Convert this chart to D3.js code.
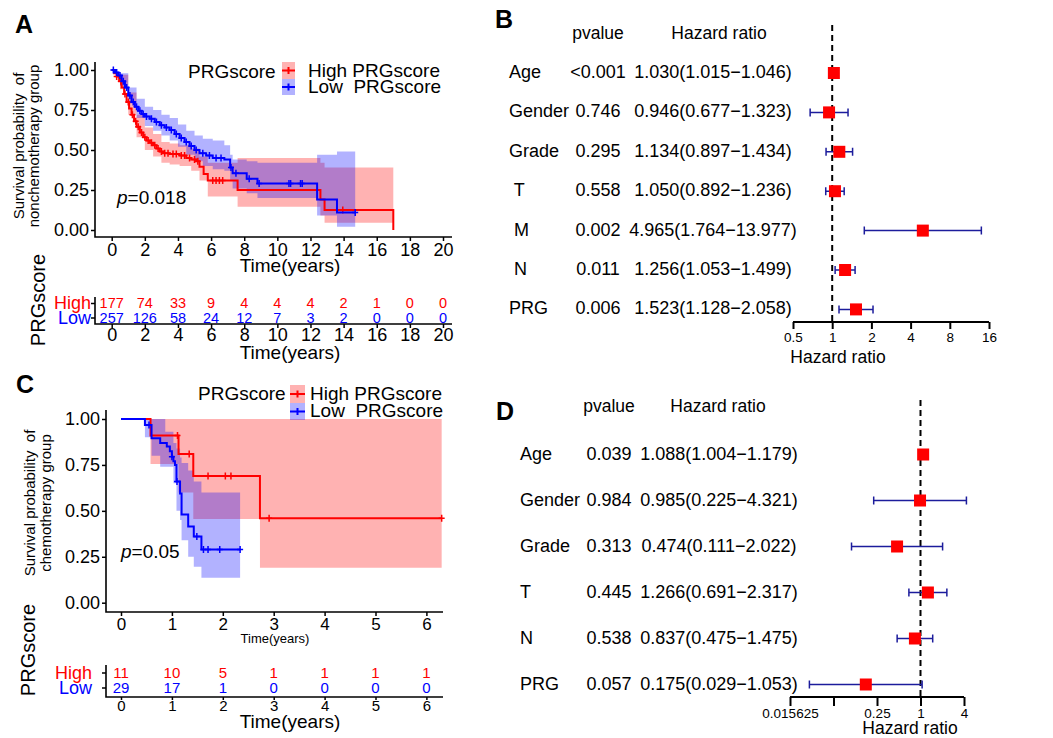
<!DOCTYPE html>
<html>
<head>
<meta charset="utf-8">
<script src="https://cdn.jsdelivr.net/npm/d3@7"></script>
<style>
  body { margin: 0; background: #fff; }
  svg { font-family: "Liberation Sans", Arial, sans-serif; }
</style>
</head>
<body>
<script>
// ---------- data ----------
// KM steps [time, survival], bands [time, lower, upper], censor times
const highA = [[0,1],[0.15,0.98],[0.3,0.96],[0.45,0.93],[0.6,0.89],[0.75,0.85],[0.9,0.8],[1.05,0.76],[1.2,0.72],[1.35,0.68],[1.5,0.645],[1.7,0.61],[1.9,0.58],[2.1,0.56],[2.3,0.545],[2.5,0.53],[2.7,0.51],[2.9,0.49],[3.1,0.48],[3.5,0.475],[4.1,0.465],[4.5,0.45],[4.8,0.44],[5.1,0.43],[5.3,0.395],[5.55,0.35],[5.8,0.31],[7.6,0.25],[12.6,0.19],[12.85,0.125],[17.0,0]];
const highA_band = [[0,1,1],[0.5,0.88,0.97],[1,0.72,0.86],[1.5,0.58,0.72],[2,0.5,0.64],[2.5,0.46,0.6],[3,0.42,0.55],[3.5,0.41,0.54],[4.1,0.4,0.53],[4.8,0.37,0.51],[5.3,0.31,0.46],[5.8,0.21,0.42],[7.6,0.145,0.45],[12.6,0.09,0.42],[12.85,0.045,0.39],[17.0,0.045,0.39]];
const highA_cens = [0.3,0.55,0.8,1.0,1.25,1.45,1.6,1.8,2.0,2.2,2.4,2.6,2.8,3.0,3.2,3.4,3.7,3.9,4.2,4.4,4.7,5.0,5.2,6.1,6.3,6.5,6.7,13.95];

const lowA = [[0,1],[0.2,0.985],[0.4,0.965],[0.6,0.93],[0.8,0.89],[1.0,0.84],[1.2,0.8],[1.4,0.77],[1.6,0.745],[1.8,0.725],[2.0,0.71],[2.3,0.695],[2.6,0.675],[2.9,0.655],[3.2,0.64],[3.5,0.625],[3.8,0.6],[4.1,0.575],[4.4,0.55],[4.7,0.525],[5.0,0.5],[5.3,0.48],[5.7,0.465],[6.1,0.45],[6.8,0.44],[7.15,0.39],[7.3,0.355],[8.15,0.32],[8.8,0.29],[12.4,0.19],[13.6,0.11],[14.7,0.11]];
const lowA_band = [[0,1,1],[0.5,0.9,0.98],[1,0.79,0.89],[1.5,0.7,0.82],[2,0.65,0.77],[2.5,0.62,0.75],[3,0.59,0.72],[3.5,0.56,0.7],[4,0.52,0.66],[4.5,0.47,0.62],[5,0.43,0.59],[5.5,0.4,0.57],[6.1,0.38,0.56],[6.8,0.37,0.53],[7.15,0.31,0.47],[7.3,0.26,0.44],[8.15,0.23,0.43],[8.8,0.2,0.42],[12.4,0.09,0.47],[13.6,0.02,0.49],[14.7,0.02,0.49]];
const lowA_cens = [0.1,0.3,0.5,0.7,0.9,1.1,1.3,1.5,1.7,1.9,2.1,2.4,2.7,3.0,3.3,3.6,3.9,4.2,4.5,4.8,5.1,5.5,5.9,6.3,6.6,7.2,7.5,8.3,8.9,10.7,10.8,11.4,11.5,14.7];

const highC = [[0,1],[0.58,0.91],[1.13,0.81],[1.42,0.69],[2.73,0.46],[6.3,0.46]];
const highC_band = [[0,1,1],[0.58,0.755,1],[1.13,0.6,1],[1.42,0.455,1],[2.73,0.19,1],[6.3,0.19,1]];
const highC_cens = [1.11,1.34,1.71,2.05,2.16,2.91,6.3];

const lowC = [[0,1],[0.47,0.967],[0.6,0.895],[0.77,0.87],[0.9,0.85],[0.96,0.825],[1.0,0.795],[1.03,0.77],[1.06,0.75],[1.09,0.66],[1.16,0.595],[1.19,0.48],[1.32,0.415],[1.43,0.36],[1.58,0.29],[2.34,0.29]];
const lowC_band = [[0,1,1],[0.47,0.9,1],[0.6,0.8,1],[0.77,0.74,1],[0.87,0.74,0.93],[1.03,0.65,0.87],[1.09,0.5,0.84],[1.16,0.45,0.79],[1.19,0.34,0.76],[1.32,0.25,0.72],[1.43,0.196,0.66],[1.58,0.136,0.6],[2.34,0.136,0.6]];
const lowC_cens = [0.55,1.0,1.1,1.49,1.62,1.71,1.94,2.34];

const survTicks = [0, 0.25, 0.5, 0.75, 1];
const timeTicksA = [0,2,4,6,8,10,12,14,16,18,20];
const timeTicksC = [0,1,2,3,4,5,6];

const riskHighA = [177,74,33,9,4,4,4,2,1,0,0];
const riskLowA = [257,126,58,24,12,7,3,2,0,0,0];
const riskHighC = [11,10,5,1,1,1,1];
const riskLowC = [29,17,1,0,0,0,0];

// forest B
const varsB = ["Age","Gender","Grade"," T"," M"," N","PRG"];
const pB = ["<0.001","0.746","0.295","0.558","0.002","0.011","0.006"];
const hrB = [1.030,0.946,1.134,1.050,4.965,1.256,1.523];
const loB = [1.015,0.677,0.897,0.892,1.764,1.053,1.128];
const hiB = [1.046,1.323,1.434,1.236,13.977,1.499,2.058];
const ticksB = [0.5,1,2,4,8,16];
const tickLabelsB = ["0.5","1","2","4","8","16"];

// forest D
const varsD = ["Age","Gender","Grade","T","N","PRG"];
const pD = ["0.039","0.984","0.313","0.445","0.538","0.057"];
const hrD = [1.088,0.985,0.474,1.266,0.837,0.175];
const loD = [1.004,0.225,0.111,0.691,0.475,0.029];
const hiD = [1.179,4.321,2.022,2.317,1.475,1.053];
const ticksD = [0.015625,0.0625,0.25,1,4];
const tickLabelsD = ["0.015625","","0.25","1","4"];

// ---------- drawing ----------
const FONT = '"Liberation Sans", Arial, sans-serif';
const RED = "#ff0000", BLUE = "#0000ff", EB = "#1c1c9c";

const svg = d3.select("body").append("svg")
  .attr("width", 1053).attr("height", 738);

function text(g, x, y, s, size, o = {}) {
  return g.append("text")
    .attr("x", x).attr("y", y)
    .attr("font-size", size)
    .attr("fill", o.fill || "#000")
    .attr("text-anchor", o.anchor || "start")
    .attr("font-weight", o.weight || "normal")
    .style("white-space", "pre")
    .text(s);
}

function styleAxis(sel, fs) {
  sel.attr("font-family", FONT).attr("font-size", fs);
  sel.select(".domain").remove();
  sel.selectAll(".tick line").attr("stroke", "#000").attr("stroke-width", 1.5);
  sel.selectAll(".tick text").attr("fill", "#000");
}

function stepAt(steps, t) {
  let s = steps[0][1];
  steps.forEach(d => { if (d[0] <= t) s = d[1]; });
  return s;
}

function km(g, x, y, curves) {
  const area = d3.area().curve(d3.curveStepAfter)
    .x(d => x(d[0])).y0(d => y(d[1])).y1(d => y(d[2]));
  const line = d3.line().curve(d3.curveStepAfter)
    .x(d => x(d[0])).y(d => y(d[1]));
  curves.forEach(c => {
    g.append("path").attr("d", area(c.band))
      .attr("fill", c.color).attr("fill-opacity", 0.3);
  });
  curves.forEach(c => {
    g.append("path").attr("d", line(c.steps))
      .attr("fill", "none").attr("stroke", c.color).attr("stroke-width", 2);
    g.selectAll(null).data(c.cens).enter().append("path")
      .attr("d", t => {
        const px = x(t), py = y(stepAt(c.steps, t));
        return `M${px - 3},${py}H${px + 3}M${px},${py - 3.5}V${py + 3.5}`;
      })
      .attr("stroke", c.color).attr("stroke-width", 1.5);
  });
}

function legendKey(g, x0, y0, w, h, color) {
  g.append("rect").attr("x", x0).attr("y", y0).attr("width", w).attr("height", h)
    .attr("fill", color).attr("fill-opacity", 0.3);
  const cy = y0 + h / 2, cx = x0 + w / 2;
  g.append("path").attr("d", `M${x0},${cy}H${x0 + w}M${cx},${cy - 3.5}V${cy + 3.5}`)
    .attr("stroke", color).attr("stroke-width", 2);
}

function rotText(g, x, y, s, size) {
  g.append("text").attr("transform", `translate(${x},${y}) rotate(-90)`)
    .attr("text-anchor", "middle").attr("font-size", size)
    .style("white-space", "pre").text(s);
}

// ===== Panel A =====
const gA = svg.append("g");
text(gA, 15, 33, "A", 25, { weight: "bold" });
const xA = d3.scaleLinear().domain([0, 20]).range([111.7, 443]);
const yA = d3.scaleLinear().domain([0, 1]).range([230, 70]);
km(gA, xA, yA, [
  { steps: highA, band: highA_band, cens: highA_cens, color: RED },
  { steps: lowA, band: lowA_band, cens: lowA_cens, color: BLUE }
]);
gA.append("g").attr("transform", "translate(0,237)")
  .call(d3.axisBottom(xA).tickValues(timeTicksA).tickFormat(d3.format("d")).tickSize(4).tickPadding(2).tickSizeOuter(0))
  .call(styleAxis, 18);
gA.append("g").attr("transform", "translate(95,0)")
  .call(d3.axisLeft(yA).tickValues(survTicks).tickFormat(d3.format(".2f")).tickSize(4).tickPadding(2))
  .call(styleAxis, 18);
gA.append("path").attr("d", "M95,62V237H452").attr("fill", "none").attr("stroke", "#000").attr("stroke-width", 1.6);
text(gA, 290, 272, "Time(years)", 19, { anchor: "middle" });
rotText(gA, 24, 146, "Survival probability  of", 15);
rotText(gA, 39, 146, "nonchemotherapy group", 15);
gA.append("text").attr("x", 117).attr("y", 204).attr("font-size", 19)
  .html('<tspan font-style="italic">p</tspan>=0.018');
text(gA, 188, 78, "PRGscore", 19);
legendKey(gA, 282, 62, 13, 17, RED);
legendKey(gA, 282, 79, 13, 16, BLUE);
text(gA, 308, 76.5, "High PRGscore", 19);
text(gA, 308, 92.5, "Low  PRGscore", 19);

// risk table A
const rowA = d3.scalePoint().domain(["High", "Low"]).range([303, 317.5]);
gA.append("g").attr("transform", "translate(95,0)")
  .call(d3.axisLeft(rowA).tickSize(4).tickPadding(0).tickSizeOuter(0))
  .call(styleAxis, 18)
  .selectAll(".tick text").attr("fill", d => d === "High" ? RED : BLUE);
gA.append("g").attr("transform", "translate(0,324)")
  .call(d3.axisBottom(xA).tickValues(timeTicksA).tickFormat(d3.format("d")).tickSize(4).tickPadding(0.5).tickSizeOuter(0))
  .call(styleAxis, 18);
gA.append("path").attr("d", "M95,297V324H452").attr("fill", "none").attr("stroke", "#000").attr("stroke-width", 1.6);
[[riskHighA, "High", RED], [riskLowA, "Low", BLUE]].forEach(([vals, row, col]) => {
  gA.selectAll(null).data(vals).enter().append("text")
    .attr("x", (d, i) => xA(timeTicksA[i])).attr("y", rowA(row)).attr("dy", "0.36em")
    .attr("text-anchor", "middle").attr("font-size", 14.5).attr("fill", col)
    .text(d => d);
});
text(gA, 290, 358.5, "Time(years)", 19, { anchor: "middle" });
rotText(gA, 45, 300, "PRGscore", 20);

// ===== Panel C =====
const gC = svg.append("g");
text(gC, 16, 393, "C", 25, { weight: "bold" });
const xC = d3.scaleLinear().domain([0, 6]).range([121, 426.4]);
const yC = d3.scaleLinear().domain([0, 1]).range([602.7, 419]);
km(gC, xC, yC, [
  { steps: highC, band: highC_band, cens: highC_cens, color: RED },
  { steps: lowC, band: lowC_band, cens: lowC_cens, color: BLUE }
]);
gC.append("g").attr("transform", "translate(0,612)")
  .call(d3.axisBottom(xC).tickValues(timeTicksC).tickFormat(d3.format("d")).tickSize(4).tickPadding(1.5).tickSizeOuter(0))
  .call(styleAxis, 17);
gC.append("g").attr("transform", "translate(106,0)")
  .call(d3.axisLeft(yC).tickValues(survTicks).tickFormat(d3.format(".2f")).tickSize(4).tickPadding(2))
  .call(styleAxis, 18);
gC.append("path").attr("d", "M106,410V612H443").attr("fill", "none").attr("stroke", "#000").attr("stroke-width", 1.6);
text(gC, 275, 643, "Time(years)", 13, { anchor: "middle" });
rotText(gC, 35, 503, "Survival probability  of", 15);
rotText(gC, 51, 503, "chemotherapy group", 15);
gC.append("text").attr("x", 121).attr("y", 558).attr("font-size", 19)
  .html('<tspan font-style="italic">p</tspan>=0.05');
text(gC, 198, 400, "PRGscore", 19);
legendKey(gC, 290, 385, 15, 18, RED);
legendKey(gC, 290, 403, 15, 17, BLUE);
text(gC, 310, 400, "High PRGscore", 19);
text(gC, 310, 417, "Low  PRGscore", 19);

// risk table C
const rowC = d3.scalePoint().domain(["High", "Low"]).range([672.5, 687.5]);
gC.append("g").attr("transform", "translate(106,0)")
  .call(d3.axisLeft(rowC).tickSize(4).tickPadding(10).tickSizeOuter(0))
  .call(styleAxis, 18)
  .selectAll(".tick text").attr("fill", d => d === "High" ? RED : BLUE);
gC.append("g").attr("transform", "translate(0,697)")
  .call(d3.axisBottom(xC).tickValues(timeTicksC).tickFormat(d3.format("d")).tickSize(3).tickPadding(0).tickSizeOuter(0))
  .call(styleAxis, 15);
gC.append("path").attr("d", "M106,665V697H443").attr("fill", "none").attr("stroke", "#000").attr("stroke-width", 1.6);
[[riskHighC, "High", RED], [riskLowC, "Low", BLUE]].forEach(([vals, row, col]) => {
  gC.selectAll(null).data(vals).enter().append("text")
    .attr("x", (d, i) => xC(timeTicksC[i])).attr("y", rowC(row)).attr("dy", "0.36em")
    .attr("text-anchor", "middle").attr("font-size", 15).attr("fill", col)
    .text(d => d);
});
text(gC, 290, 728, "Time(years)", 19, { anchor: "middle" });
rotText(gC, 35, 650, "PRGscore", 20);

// ===== Forest plots =====
function forest(g, cfg) {
  const { vars, p, hr, lo, hi, x, y0, dy, labelX, pX, hrX, headY, axisY,
          ticks, tickLabels, tickSize, tickPad, titleX, titleY, dashTop } = cfg;
  const y = d3.scaleLinear().domain([0, 1]).range([y0, y0 + dy]);
  text(g, pX, headY, "pvalue", 17.5, { anchor: "middle" });
  text(g, cfg.headHrX, headY, "Hazard ratio", 17.5, { anchor: "middle" });
  g.append("line").attr("x1", x(1)).attr("x2", x(1)).attr("y1", dashTop).attr("y2", axisY)
    .attr("stroke", "#000").attr("stroke-width", 2).attr("stroke-dasharray", "6,4");
  vars.forEach((v, i) => {
    const ry = y(i);
    text(g, labelX, ry + 5, v, 18);
    text(g, pX, ry + 5, p[i], 18, { anchor: "middle" });
    const s = hr[i].toFixed(3) + "(" + lo[i].toFixed(3) + "\u2212" + hi[i].toFixed(3) + ")";
    text(g, hrX, ry + 5, s, 18, { anchor: "middle" });
    const xl = x(lo[i]), xh = x(hi[i]);
    g.append("path").attr("d", `M${xl},${ry}H${xh}M${xl},${ry - 4}V${ry + 4}M${xh},${ry - 4}V${ry + 4}`)
      .attr("stroke", EB).attr("stroke-width", 1.5).attr("fill", "none");
    g.append("rect").attr("x", x(hr[i]) - 6).attr("y", ry - 6).attr("width", 12).attr("height", 12)
      .attr("fill", RED);
  });
  g.append("g").attr("transform", `translate(0,${axisY})`)
    .call(d3.axisBottom(x).tickValues(ticks).tickFormat((d, i) => tickLabels[i])
      .tickSize(tickSize).tickPadding(tickPad).tickSizeOuter(0))
    .call(styleAxis, 13.5)
    .call(a => a.selectAll(".tick line").attr("stroke-width", 2));
  g.append("line").attr("x1", x.range()[0]).attr("x2", x.range()[1]).attr("y1", axisY).attr("y2", axisY)
    .attr("stroke", "#000").attr("stroke-width", 2);
  text(g, titleX, titleY, "Hazard ratio", 17.5, { anchor: "middle" });
}

const gB = svg.append("g");
text(gB, 495, 28, "B", 25, { weight: "bold" });
forest(gB, {
  vars: varsB, p: pB, hr: hrB, lo: loB, hi: hiB,
  x: d3.scaleLog().base(2).domain([0.5, 16]).range([793, 989]),
  y0: 73, dy: 39.4, labelX: 509, pX: 598, hrX: 713, headHrX: 719, headY: 39,
  axisY: 322, ticks: ticksB, tickLabels: tickLabelsB, tickSize: 7, tickPad: 3,
  titleX: 838, titleY: 363, dashTop: 25
});

const gD = svg.append("g");
text(gD, 496, 420, "D", 25, { weight: "bold" });
forest(gD, {
  vars: varsD, p: pD, hr: hrD, lo: loD, hi: hiD,
  x: d3.scaleLog().base(2).domain([0.015625, 4]).range([790, 964]),
  y0: 454.5, dy: 46, labelX: 520, pX: 609, hrX: 719, headHrX: 718, headY: 412,
  axisY: 697, ticks: ticksD, tickLabels: tickLabelsD, tickSize: 9, tickPad: 2,
  titleX: 910, titleY: 734, dashTop: 400
});
</script>
</body>
</html>
